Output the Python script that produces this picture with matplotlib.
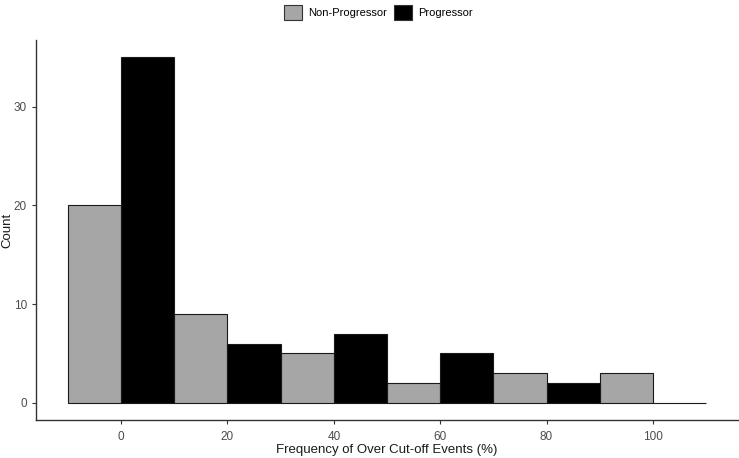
import matplotlib
matplotlib.use("Agg")
import matplotlib.pyplot as plt
from matplotlib.patches import Patch
import numpy as np

plt.rcParams['font.family'] = ['Liberation Sans', 'DejaVu Sans']

bin_centers = [0, 20, 40, 60, 80, 100]
non_progressor = [20, 9, 5, 2, 3, 3]
progressor = [35, 6, 7, 5, 2, 0]
labels = ["Non-Progressor", "Progressor"]
colors = ["#A6A6A6", "#000000"]

fig = plt.figure(figsize=(7.39, 4.58), dpi=100)
ax = fig.add_axes([36/739, 38/458, (738-36)/739, (420-40)/458])

bw = 10
x = np.array(bin_centers, dtype=float)
ax.bar(x - bw/2, non_progressor, width=bw, color=colors[0], edgecolor="#1a1a1a", linewidth=0.8)
ax.bar(x + bw/2, progressor, width=bw, color=colors[1], edgecolor="#1a1a1a", linewidth=0.8)

ax.set_xlim(-16, 116)
ax.set_ylim(-1.75, 36.75)
ax.set_xticks([0, 20, 40, 60, 80, 100])
ax.set_yticks([0, 10, 20, 30])
ax.tick_params(axis='both', colors="#333333", labelcolor="#4D4D4D", labelsize=8.5, length=3, width=0.8)
ax.tick_params(axis='x', pad=5)
for s in ['top', 'right']:
    ax.spines[s].set_visible(False)
for s in ['left', 'bottom']:
    ax.spines[s].set_color("#333333")
    ax.spines[s].set_linewidth(1.0)

ax.set_xlabel("Frequency of Over Cut-off Events (%)", fontsize=9.5, color="#1a1a1a", labelpad=1)
ax.set_ylabel("Count", fontsize=9.5, color="#1a1a1a", labelpad=0)

handles = [Patch(facecolor=colors[0], edgecolor="#333333", linewidth=0.8),
           Patch(facecolor=colors[1], edgecolor="#333333", linewidth=0.8)]
fig.legend(handles, labels, loc='upper center', bbox_to_anchor=(0.512, 1.012), ncol=2,
           frameon=False, fontsize=8, handlelength=1.6, handleheight=1.7,
           handletextpad=0.6, columnspacing=0.6)

fig.savefig("out.png", dpi=100)
